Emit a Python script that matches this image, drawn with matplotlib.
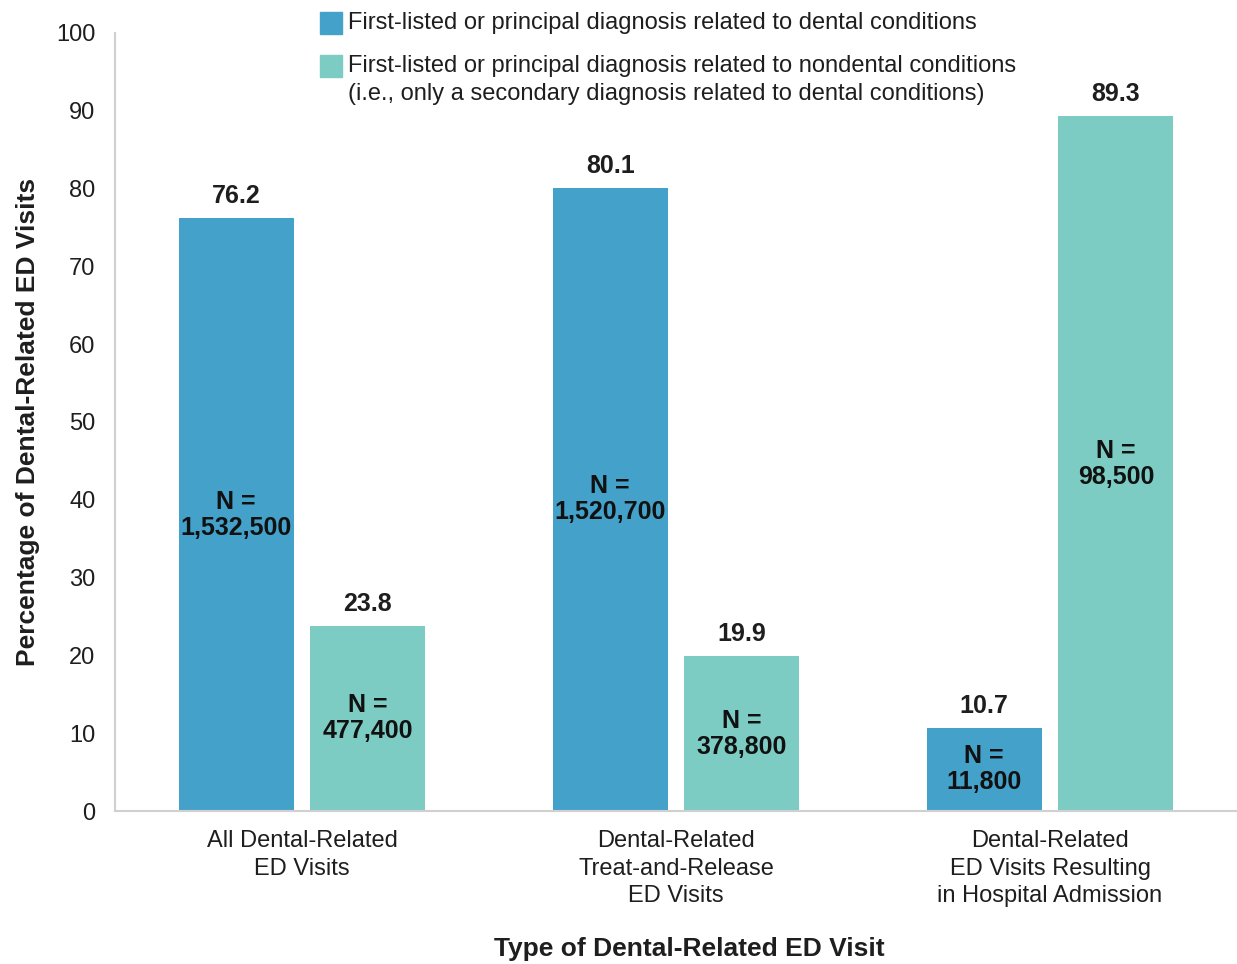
import numpy as np
import matplotlib
matplotlib.use("Agg")
import matplotlib.pyplot as plt
from matplotlib.patches import Rectangle

plt.rcParams['font.family'] = ['Liberation Sans', 'DejaVu Sans']

# data
categories = ["All Dental-Related\nED Visits",
              "Dental-Related\nTreat-and-Release\nED Visits",
              "Dental-Related\nED Visits Resulting\nin Hospital Admission"]
dental_pct = [76.2, 80.1, 10.7]
nondental_pct = [23.8, 19.9, 89.3]
dental_n = ["1,532,500", "1,520,700", "11,800"]
nondental_n = ["477,400", "378,800", "98,500"]
series_names = ["First-listed or principal diagnosis related to dental conditions",
                "First-listed or principal diagnosis related to nondental conditions\n(i.e., only a secondary diagnosis related to dental conditions)"]

blue = "#43A1CA"
teal = "#7CCCC4"
txt = "#1e1e1e"

fig = plt.figure(figsize=(12.37, 9.64), dpi=100)
ax = fig.add_axes([0.093, 0.1587, 0.907, 0.8071])

x = np.arange(len(categories))
w = 0.307
off = 0.176
b1 = ax.bar(x - off, dental_pct, w, color=blue)
b2 = ax.bar(x + off, nondental_pct, w, color=teal)

for bars, vals, ns in [(b1, dental_pct, dental_n), (b2, nondental_pct, nondental_n)]:
    for r, v, n in zip(bars, vals, ns):
        cx = r.get_x() + r.get_width() / 2
        ax.annotate(f"{v:.1f}", (cx, v), xytext=(0, 7), textcoords="offset points",
                    ha="center", va="bottom", fontsize=18, fontweight="bold", color=txt)
        ax.text(cx, v / 2, "N =\n" + n, ha="center", va="center", fontsize=18,
                fontweight="bold", color="#111111", linespacing=1.1)

ax.set_xlim(-0.5, 2.5)
ax.set_ylim(0, 100)
ax.set_yticks(np.arange(0, 101, 10))
ax.set_xticks(x)
ax.set_xticklabels(categories, fontsize=17, linespacing=1.3, color=txt)
ax.tick_params(axis="both", length=0, labelsize=17, colors=txt)
ax.tick_params(axis="x", pad=14)
ax.tick_params(axis="y", pad=14)
for s in ["top", "right"]:
    ax.spines[s].set_visible(False)
for s in ["left", "bottom"]:
    ax.spines[s].set_color("#d0d0d0")
    ax.spines[s].set_linewidth(1.5)

ax.set_ylabel("Percentage of Dental-Related ED Visits", fontsize=19, fontweight="bold",
              color=txt, labelpad=12)
fig.text(0.557, 0.003, "Type of Dental-Related ED Visit", ha="center", va="bottom",
         fontsize=19, fontweight="bold", color=txt)

# legend drawn by hand so the second swatch sits on the first text line
sw_x, sw_w, sw_h = 0.2587, 0.0178, 0.0228
text_x = 0.2813
line_y = [[0.976], [0.9315, 0.9025]]
for col, name, ys in zip([blue, teal], series_names, line_y):
    fig.patches.append(Rectangle((sw_x, ys[0] - sw_h / 2), sw_w, sw_h, color=col,
                                 transform=fig.transFigure, figure=fig))
    for yy, line in zip(ys, name.split("\n")):
        fig.text(text_x, yy, line, ha="left", va="center", fontsize=17, color=txt)

fig.savefig("out.png", dpi=100)
